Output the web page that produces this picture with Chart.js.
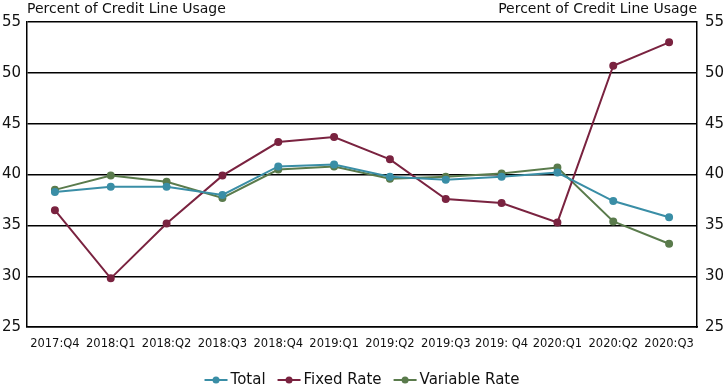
<!DOCTYPE html>
<html>
<head>
<meta charset="utf-8">
<script src="https://cdn.jsdelivr.net/npm/chart.js@4/dist/chart.umd.min.js"></script>
<style>
  html, body { margin: 0; padding: 0; background: #fff; }
  #wrap { width: 725px; height: 387px; }
</style>
</head>
<body>
<div id="wrap"><canvas id="grafica"></canvas></div>
<script>
const quarters = ['2017:Q4', '2018:Q1', '2018:Q2', '2018:Q3', '2018:Q4', '2019:Q1',
  '2019:Q2', '2019:Q3', '2019: Q4', '2020:Q1', '2020:Q2', '2020:Q3'];
const total = [38.3, 38.8, 38.8, 38.0, 40.8, 41.0, 39.8, 39.5, 39.8, 40.2, 37.4, 35.8];
const fixedRate = [36.5, 29.8, 35.2, 39.9, 43.2, 43.7, 41.5, 37.6, 37.2, 35.3, 50.7, 53.0];
const variableRate = [38.5, 39.9, 39.3, 37.7, 40.5, 40.8, 39.6, 39.8, 40.1, 40.7, 35.4, 33.2];
const yTicks = [25, 30, 35, 40, 45, 50, 55];

const FONT = "'DejaVu Sans', sans-serif";

const serie = (label, data, color) => ({
  label: label,
  data: data,
  borderColor: color,
  backgroundColor: color,
  borderWidth: 2,
  pointRadius: 3,
  pointHoverRadius: 3,
  pointStyle: 'circle',
  tension: 0,
  yAxisID: 'y'
});

// textos de eje arriba
const axisTitles = {
  id: 'axisTitles',
  afterDraw(chart) {
    const { ctx, chartArea } = chart;
    ctx.save();
    ctx.font = "14px " + FONT;
    ctx.fillStyle = '#111';
    ctx.textBaseline = 'middle';
    ctx.textAlign = 'left';
    ctx.fillText('Percent of Credit Line Usage', chartArea.left, 9);
    ctx.textAlign = 'right';
    ctx.fillText('Percent of Credit Line Usage', chartArea.right, 9);
    ctx.restore();
  }
};

// leyenda abajo: linea con punto + texto
const bottomLegend = {
  id: 'bottomLegend',
  afterDraw(chart) {
    const { ctx, chartArea } = chart;
    const y = 380, mark = 23, gapText = 3, gapItem = 12;
    ctx.save();
    ctx.font = "15px " + FONT;
    ctx.textBaseline = 'middle';
    ctx.textAlign = 'left';
    const items = chart.data.datasets.map(ds => ({ ds, w: ctx.measureText(ds.label).width }));
    const totalW = items.reduce((s, it) => s + mark + gapText + it.w, 0) + gapItem * (items.length - 1);
    let x = (chartArea.left + chartArea.right) / 2 - totalW / 2;
    items.forEach(it => {
      const c = it.ds.borderColor;
      ctx.strokeStyle = c;
      ctx.lineWidth = 2;
      ctx.beginPath(); ctx.moveTo(x, y); ctx.lineTo(x + mark, y); ctx.stroke();
      ctx.fillStyle = c;
      ctx.beginPath(); ctx.arc(x + mark / 2, y, 3.5, 0, Math.PI * 2); ctx.fill();
      ctx.fillStyle = '#111';
      ctx.fillText(it.ds.label, x + mark + gapText, y);
      x += mark + gapText + it.w + gapItem;
    });
    ctx.restore();
  }
};

const ctx = document.getElementById('grafica').getContext('2d');
new Chart(ctx, {
  type: 'line',
  data: {
    labels: quarters,
    datasets: [
      serie('Total', total, '#3a8ea6'),
      serie('Fixed Rate', fixedRate, '#7a2340'),
      serie('Variable Rate', variableRate, '#5a7b4c')
    ]
  },
  options: {
    responsive: true,
    maintainAspectRatio: false,
    animation: false,
    layout: { padding: { top: 22, left: 0, right: 0, bottom: 26 } },
    scales: {
      x: {
        offset: true,
        grid: { display: false, drawTicks: false },
        border: { color: '#000', width: 1.5 },
        ticks: { font: { family: FONT, size: 11.5 }, color: '#111', padding: 10, maxRotation: 0, autoSkip: false }
      },
      y: {
        position: 'left',
        min: 25, max: 55,
        afterBuildTicks: axis => { axis.ticks = yTicks.map(v => ({ value: v })); },
        afterFit: axis => { axis.width = 27; },
        grid: { color: '#000', lineWidth: 1.5, drawTicks: false },
        border: { color: '#000', width: 1.5 },
        ticks: { font: { family: FONT, size: 15 }, color: '#111', padding: 6 }
      },
      y2: {
        position: 'right',
        min: 25, max: 55,
        afterBuildTicks: axis => { axis.ticks = yTicks.map(v => ({ value: v })); },
        afterFit: axis => { axis.width = 28; },
        grid: { display: false, drawTicks: false },
        border: { color: '#000', width: 1.5 },
        ticks: { font: { family: FONT, size: 15 }, color: '#111', padding: 8 }
      }
    },
    plugins: {
      legend: { display: false },
      tooltip: { enabled: false },
      title: { display: false }
    }
  },
  plugins: [axisTitles, bottomLegend]
});
</script>
</body>
</html>
